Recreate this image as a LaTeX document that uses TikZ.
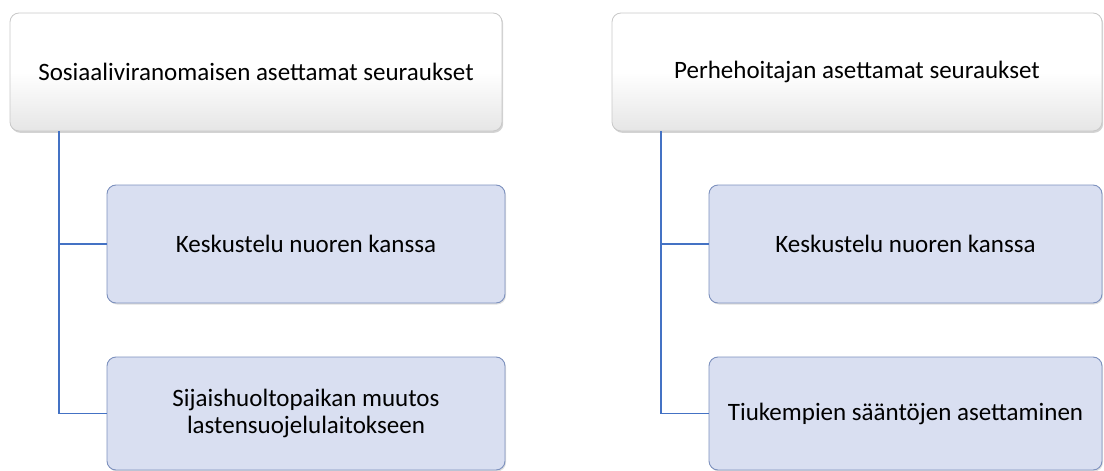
\documentclass[tikz,border=0pt]{standalone}
\usepackage{fontspec}
\setmainfont{Carlito}
\usetikzlibrary{shadows}
\definecolor{childfill}{RGB}{217,223,241}
\definecolor{childdraw}{RGB}{125,145,190}
\definecolor{topdraw}{RGB}{200,200,200}
\definecolor{linkblue}{RGB}{68,114,196}
\tikzset{
  topbox/.style={draw=topdraw, line width=0.8pt, rounded corners=9pt,
    top color=white, bottom color=black!10, middle color=white,
    drop shadow={opacity=0.35, shadow xshift=1.2pt, shadow yshift=-1.8pt},
    minimum height=118pt, inner sep=0pt, align=center, font=\fontsize{25}{27}\selectfont},
  childbox/.style={draw=childdraw, line width=0.9pt, rounded corners=9pt, fill=childfill,
    drop shadow={opacity=0.25, shadow xshift=1pt, shadow yshift=-1.5pt},
    inner sep=0pt, align=center, font=\fontsize{25}{27}\selectfont},
  link/.style={draw=linkblue, line width=1.3pt}
}
\begin{document}
\begin{tikzpicture}[x=1pt,y=-1pt]
\useasboundingbox (0,0) rectangle (1104,471);
% left tree
\node[topbox, minimum width=492pt] (L0) at (256,72) {Sosiaaliviranomaisen asettamat seuraukset};
\node[childbox, minimum width=398pt, minimum height=118pt] (L1) at (306,244) {Keskustelu nuoren kanssa};
\node[childbox, minimum width=398pt, minimum height=113pt] (L2) at (306,413.5) {Sijaishuoltopaikan muutos\\lastensuojelulaitokseen};
\coordinate (Ls) at (59,0);
\draw[link] (L0.south -| Ls) |- (L2.west);
\draw[link] (L1.west -| Ls) -- (L1.west);
% right tree
\node[topbox, minimum width=490pt] (R0) at (857,72) {Perhehoitajan asettamat seuraukset};
\node[childbox, minimum width=393pt, minimum height=118pt] (R1) at (905.5,244) {Keskustelu nuoren kanssa};
\node[childbox, minimum width=393pt, minimum height=113pt] (R2) at (905.5,413.5) {Tiukempien sääntöjen asettaminen};
\coordinate (Rs) at (661,0);
\draw[link] (R0.south -| Rs) |- (R2.west);
\draw[link] (R1.west -| Rs) -- (R1.west);
\end{tikzpicture}
\end{document}
